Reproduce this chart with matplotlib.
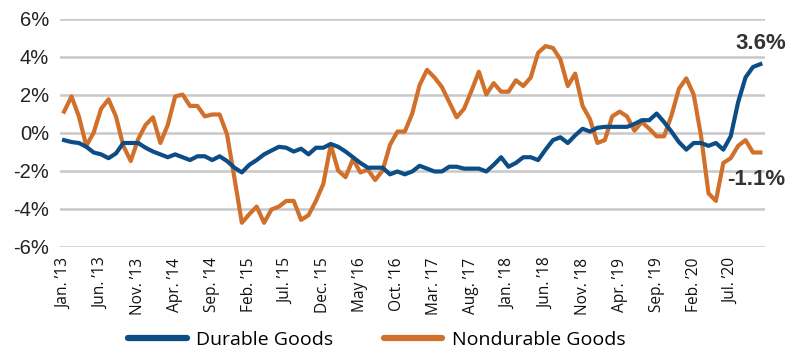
import matplotlib
matplotlib.use("Agg")
import matplotlib.pyplot as plt
import numpy as np

# monthly year-over-year change, Jan 2013 - Nov 2020
durable = [
    -0.4, -0.5, -0.55, -0.75, -1.05, -1.15, -1.35, -1.1, -0.55, -0.55,
    -0.55, -0.8, -1.0, -1.15, -1.3, -1.15, -1.3, -1.45, -1.25, -1.25,
    -1.45, -1.25, -1.5, -1.85, -2.1, -1.7, -1.45, -1.15, -0.95, -0.75,
    -0.8, -1.0, -0.85, -1.15, -0.8, -0.8, -0.6, -0.75, -1.0, -1.3,
    -1.6, -1.85, -1.85, -1.85, -2.2, -2.05, -2.2, -2.05, -1.75, -1.9,
    -2.05, -2.05, -1.8, -1.8, -1.9, -1.9, -1.9, -2.05, -1.7, -1.3,
    -1.8, -1.6, -1.3, -1.3, -1.45, -0.9, -0.4, -0.25, -0.55, -0.15,
    0.2, 0.05, 0.25, 0.3, 0.3, 0.3, 0.3, 0.45, 0.65, 0.65,
    1.0, 0.55, 0.05, -0.5, -0.9, -0.55, -0.55, -0.7, -0.55, -0.9,
    -0.2, 1.6, 2.9, 3.45, 3.6,
]
nondurable = [
    1.1, 1.9, 0.85, -0.7, 0.0, 1.25, 1.75, 0.85, -0.7, -1.5,
    -0.35, 0.4, 0.8, -0.55, 0.4, 1.9, 2.0, 1.4, 1.4, 0.85,
    0.95, 0.95, -0.1, -2.4, -4.75, -4.3, -3.9, -4.75, -4.05, -3.9,
    -3.6, -3.6, -4.6, -4.35, -3.6, -2.7, -0.65, -2.0, -2.35, -1.4,
    -2.1, -1.95, -2.5, -2.0, -0.65, 0.05, 0.05, 1.0, 2.5, 3.3,
    2.9, 2.4, 1.6, 0.8, 1.25, 2.2, 3.2, 2.0, 2.6, 2.15,
    2.15, 2.75, 2.45, 2.9, 4.2, 4.55, 4.45, 3.85, 2.45, 3.1,
    1.4, 0.7, -0.55, -0.4, 0.85, 1.1, 0.85, 0.1, 0.55, 0.2,
    -0.2, -0.2, 0.9, 2.3, 2.85, 2.0, -0.2, -3.2, -3.6, -1.6,
    -1.35, -0.7, -0.4, -1.05, -1.05,
]
tick_labels = [
    "Jan. \u201913", "Jun. \u201913", "Nov. \u201913", "Apr. \u201914",
    "Sep. \u201914", "Feb. \u201915", "Jul. \u201915", "Dec. \u201915",
    "May \u201916", "Oct. \u201916", "Mar. \u201917", "Aug. \u201917",
    "Jan. \u201918", "Jun. \u201918", "Nov. \u201918", "Apr. \u201919",
    "Sep. \u201919", "Feb. \u201920", "Jul. \u201920",
]
y_ticks = [-6, -4, -2, 0, 2, 4, 6]
end_labels = ["3.6%", "-1.1%"]

blue = "#0d4d85"
orange = "#d0702a"

months = np.arange(len(durable))

fig = plt.figure(figsize=(8, 3.57), dpi=100)
ax = fig.add_axes([0.075, 0.3095, 0.881, 0.6385])

for y in y_ticks:
    ax.axhline(y, color="#c8c8c8", lw=1.8, zorder=1)

ax.plot(months, durable, color=blue, lw=3, label="Durable Goods", zorder=3,
        solid_joinstyle="round")
ax.plot(months, nondurable, color=orange, lw=3, label="Nondurable Goods", zorder=2,
        solid_joinstyle="round")

ax.set_xlim(-0.55, 94.6)
ax.set_ylim(-6, 6)
ax.set_yticks(y_ticks)
ax.set_yticklabels([f"{v}%" for v in y_ticks], family="Liberation Sans",
                   fontsize=14.5, color="#222222")
ax.set_xticks(months[::5])
ax.set_xticklabels(tick_labels, rotation=90, family="Open Sans", fontsize=11.2,
                   color="#111111", va="top", ha="center")
ax.tick_params(axis="y", length=0, pad=8)
ax.tick_params(axis="x", length=0, pad=8)
for s in ax.spines.values():
    s.set_visible(False)

ax.annotate(end_labels[0], (months[-1], durable[-1]), xytext=(0, 7),
            textcoords="offset points", ha="center", va="bottom",
            fontsize=16, fontweight="bold", family="Liberation Sans", color="#333333")
ax.annotate(end_labels[1], (months[-1], nondurable[-1]), xytext=(-3, -12),
            textcoords="offset points", ha="center", va="top",
            fontsize=16, fontweight="bold", family="Liberation Sans", color="#333333")

fig.legend(loc="center", bbox_to_anchor=(377 / 800, 0.048), ncol=2, frameon=False,
           prop={"family": "Open Sans", "size": 14}, handlelength=3.0,
           handletextpad=0.5, columnspacing=2.6)
for line in fig.legends[0].get_lines():
    line.set_linewidth(4.5)
    line.set_solid_capstyle("round")

fig.savefig("out.png", dpi=100)
